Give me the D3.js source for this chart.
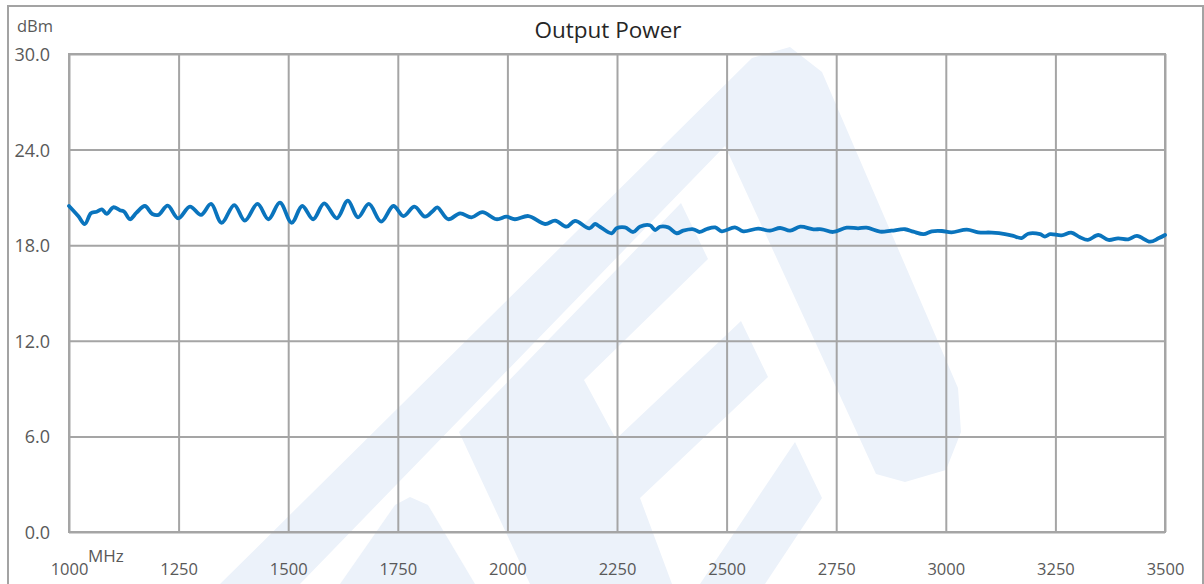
<!DOCTYPE html>
<html>
<head>
<meta charset="utf-8">
<script src="https://cdn.jsdelivr.net/npm/d3@7/dist/d3.min.js"></script>
<style>
  html, body { margin: 0; padding: 0; background: #ffffff; }
  svg { display: block; }
</style>
</head>
<body>
<svg id="chart" width="1204" height="584"></svg>
<script>
// ---- data ----
const title = "Output Power";
const yUnit = "dBm";
const xUnit = "MHz";
const xTicks = [1000, 1250, 1500, 1750, 2000, 2250, 2500, 2750, 3000, 3250, 3500];
const yTicks = [0, 6, 12, 18, 24, 30];
const freqMHz = [1000,1021,1036,1050,1063,1075,1086,1101,1116,1126,1139,1154,1173,1190,1204,1225,1249,1276,1301,1324,1348,1377,1401,1430,1455,1481,1508,1532,1557,1582,1611,1636,1659,1684,1712,1740,1763,1788,1812,1830,1840,1865,1892,1918,1943,1975,1998,2017,2048,2086,2109,2135,2154,2187,2200,2211,2238,2249,2268,2287,2302,2325,2337,2348,2367,2386,2401,2424,2439,2455,2474,2489,2519,2538,2572,2599,2622,2645,2668,2698,2717,2743,2774,2800,2819,2850,2876,2907,2926,2949,2968,2991,3013,3048,3074,3105,3135,3154,3173,3188,3215,3226,3238,3264,3286,3306,3324,3348,3371,3393,3416,3436,3466,3485,3500];
const powerDBm = [20.46,19.83,19.33,20.0,20.1,20.25,19.96,20.38,20.2,20.1,19.63,20.04,20.46,19.96,19.9,20.48,19.69,20.42,19.9,20.59,19.41,20.52,19.54,20.59,19.63,20.67,19.41,20.46,19.63,20.63,19.69,20.8,19.75,20.59,19.48,20.46,19.83,20.42,19.79,20.15,20.38,19.63,20.0,19.75,20.08,19.63,19.79,19.63,19.83,19.33,19.54,19.16,19.52,19.06,19.33,19.16,18.75,19.06,19.12,18.83,19.16,19.25,18.95,19.16,19.12,18.75,18.91,19.0,18.83,19.02,19.12,18.87,19.12,18.87,19.04,18.91,19.08,18.91,19.16,19.0,19.0,18.83,19.1,19.06,19.1,18.85,18.91,19.0,18.85,18.69,18.87,18.89,18.81,18.98,18.81,18.79,18.7,18.58,18.45,18.72,18.69,18.54,18.69,18.62,18.79,18.5,18.33,18.64,18.33,18.43,18.37,18.58,18.22,18.43,18.64];

// ---- decorative background watermark (not data) ----
const watermarkShapes = [
  [[220,584],[752,58],[790,47],[822,72],[958,388],[961,432],[946,470],[905,482],[876,474],[725,146],[300,584]],
  [[459,432],[681,203],[708,259],[584,380],[616,439],[741,321],[768,377],[640,498],[672,584],[530,584]],
  [[700,584],[795,442],[822,498],[765,584]],
  [[340,584],[395,505],[410,497],[428,505],[475,584]]
];

const svg = d3.select("#chart");
const plot = { left: 69, right: 1165, top: 54, bottom: 532 };

const x = d3.scaleLinear().domain([1000, 3500]).range([plot.left, plot.right]);
const y = d3.scaleLinear().domain([0, 30]).range([plot.bottom, plot.top]);

// watermark
svg.append("g").selectAll("path").data(watermarkShapes).join("path")
  .attr("d", d => "M" + d.map(p => p.join(",")).join("L") + "Z")
  .attr("fill", "#ecf2fa");

// outer frame
svg.append("rect")
  .attr("x", 8).attr("y", 6).attr("width", 1195).attr("height", 600)
  .attr("fill", "none").attr("stroke", "#a3a3a3").attr("stroke-width", 2);

const gridColor = "#a5a5a5";
const labelFont = "'Open Sans', 'Noto Sans', sans-serif";

// y axis with gridlines
const yAxis = d3.axisLeft(y).tickValues(yTicks)
  .tickSize(-(plot.right - plot.left)).tickPadding(19)
  .tickFormat(d3.format(".1f"));
const gy = svg.append("g").attr("transform", `translate(${plot.left},0)`).call(yAxis);
gy.select(".domain").remove();
gy.selectAll(".tick line").attr("stroke", gridColor).attr("stroke-width", 2);
gy.selectAll(".tick text").attr("fill", "#595959").attr("font-size", 18)
  .attr("font-family", labelFont).attr("dy", "0.36em");

// x axis with gridlines
const xAxis = d3.axisBottom(x).tickValues(xTicks)
  .tickSize(-(plot.bottom - plot.top)).tickPadding(31)
  .tickFormat(d3.format("d"));
const gx = svg.append("g").attr("transform", `translate(0,${plot.bottom})`).call(xAxis);
gx.select(".domain").remove();
gx.selectAll(".tick line").attr("stroke", gridColor).attr("stroke-width", 2);
gx.selectAll(".tick text").attr("fill", "#595959").attr("font-size", 16.5)
  .attr("font-family", labelFont);

// plot border
svg.append("rect")
  .attr("x", plot.left).attr("y", plot.top)
  .attr("width", plot.right - plot.left).attr("height", plot.bottom - plot.top)
  .attr("fill", "none").attr("stroke", gridColor).attr("stroke-width", 2);

// unit labels
svg.append("text").attr("x", x(xTicks[0]) + 19).attr("y", 562)
  .attr("fill", "#595959").attr("font-size", 17).attr("font-family", labelFont)
  .text(xUnit);
svg.append("text").attr("x", 17).attr("y", 32)
  .attr("fill", "#595959").attr("font-size", 16.5).attr("font-family", labelFont)
  .text(yUnit);

// title
svg.append("text").attr("x", 608).attr("y", 38).attr("text-anchor", "middle")
  .attr("fill", "#262626").attr("font-size", 22.5).attr("font-family", labelFont)
  .text(title);

// series line
const pts = freqMHz.map((f, i) => [f, powerDBm[i]]);
const line = d3.line().x(d => x(d[0])).y(d => y(d[1])).curve(d3.curveCatmullRom.alpha(0.5));
svg.append("path").datum(pts)
  .attr("d", line)
  .attr("fill", "none").attr("stroke", "#0a74bd").attr("stroke-width", 3.8)
  .attr("stroke-linejoin", "round").attr("stroke-linecap", "round");
</script>
</body>
</html>
